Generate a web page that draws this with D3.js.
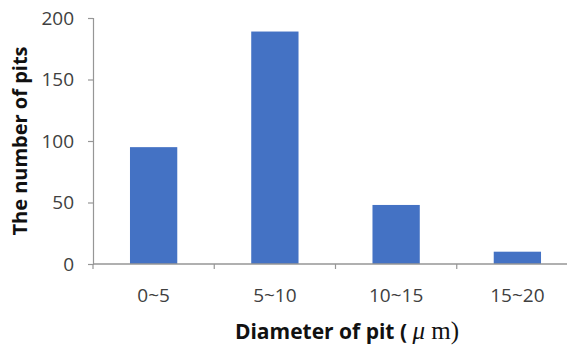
<!DOCTYPE html>
<html>
<head>
<meta charset="utf-8">
<script src="https://cdn.jsdelivr.net/npm/d3@7"></script>
<style>
  html, body { margin: 0; padding: 0; background: #fff; }
  svg { display: block; }
</style>
</head>
<body>
<svg id="chart" width="567" height="349"></svg>
<script>
// Pit diameter ranges and how many pits fall in each
const categories = ["0~5", "5~10", "10~15", "15~20"];
const pitCounts = [95, 189, 48, 10];
const yTicks = [0, 50, 100, 150, 200];

const svg = d3.select("#chart");
const plotLeft = 93, plotRight = 578, plotTop = 18, plotBottom = 264;

const x = d3.scaleBand().domain(categories).range([plotLeft, plotRight]).paddingInner(0.61).paddingOuter(0.305);
const y = d3.scaleLinear().domain([0, 200]).range([plotBottom, plotTop]);

const font = "'Open Sans', 'DejaVu Sans', sans-serif";
const serif = "'Liberation Serif', 'DejaVu Serif', serif";

// Bars
svg.append("g").selectAll("rect")
  .data(pitCounts)
  .join("rect")
  .attr("x", (d, i) => x(categories[i]))
  .attr("y", d => y(d))
  .attr("width", x.bandwidth())
  .attr("height", d => y(0) - y(d))
  .attr("fill", "#4472C4");

// Y axis
const yAxis = svg.append("g")
  .attr("transform", `translate(${plotLeft},0)`)
  .call(d3.axisLeft(y).tickValues(yTicks).tickSize(5).tickPadding(14));
yAxis.select(".domain").attr("stroke", "#969696").attr("stroke-width", 1.2);
yAxis.selectAll(".tick line").attr("stroke", "#969696").attr("stroke-width", 1.2);
yAxis.selectAll(".tick text").attr("fill", "#404040").style("font-family", font).style("font-size", "19px");

// X axis: line along zero with ticks between categories
const xg = svg.append("g");
xg.append("line")
  .attr("x1", plotLeft).attr("x2", plotRight)
  .attr("y1", y(0)).attr("y2", y(0))
  .attr("stroke", "#969696").attr("stroke-width", 1.5);
const step = x.step();
xg.selectAll("line.tick")
  .data(d3.range(categories.length + 1))
  .join("line")
  .attr("class", "tick")
  .attr("x1", i => plotLeft + i * step).attr("x2", i => plotLeft + i * step)
  .attr("y1", y(0)).attr("y2", y(0) + 5)
  .attr("stroke", "#969696").attr("stroke-width", 1.2);
xg.selectAll("text")
  .data(categories)
  .join("text")
  .attr("x", d => x(d) + x.bandwidth() / 2)
  .attr("y", 302)
  .attr("text-anchor", "middle")
  .attr("fill", "#404040")
  .style("font-family", font)
  .style("font-size", "19px")
  .text(d => d);

// Axis titles
svg.append("text")
  .attr("transform", "translate(27,141) rotate(-90)")
  .attr("text-anchor", "middle")
  .style("font-family", font)
  .style("font-size", "20px")
  .style("font-weight", "bold")
  .attr("fill", "#111")
  .text("The number of pits");

const xt = svg.append("text")
  .attr("x", 347).attr("y", 339)
  .attr("text-anchor", "middle")
  .style("font-family", font)
  .style("font-size", "21px")
  .style("font-weight", "bold")
  .attr("fill", "#111");
xt.append("tspan").text("Diameter of pit ( ");
xt.append("tspan").style("font-family", serif).style("font-style", "italic").style("font-weight", "normal").style("font-size", "25px").text("μ");
xt.append("tspan").style("font-family", serif).style("font-weight", "normal").style("font-size", "25px").text(" m)");
</script>
</body>
</html>
